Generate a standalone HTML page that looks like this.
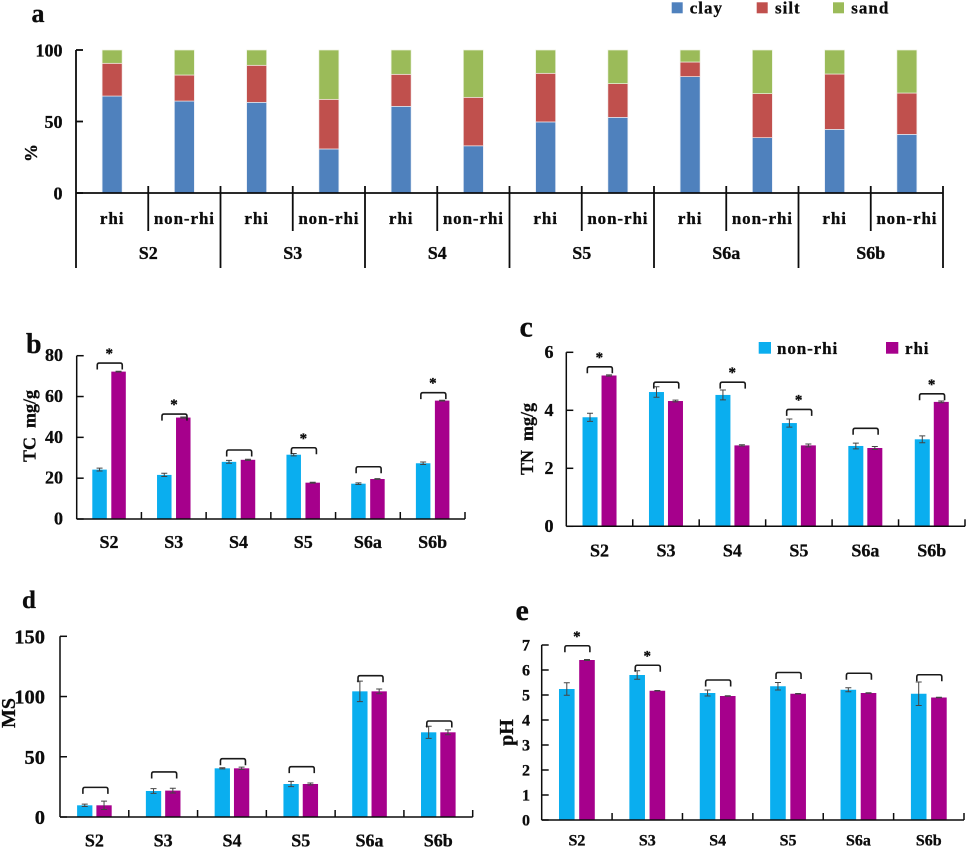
<!DOCTYPE html>
<html lang="en">
<head>
<meta charset="utf-8">
<title>Soil properties by site and rhizosphere</title>
<style>
  html, body { margin: 0; padding: 0; background: #fff; }
  #figure { display: block; width: 969px; height: 849px; filter: blur(0.35px); }
  text { font-family: "Liberation Serif", serif; font-weight: bold; fill: #0c0c0c; stroke: #0c0c0c; stroke-width: 0.3px; }
</style>
</head>
<body>
<svg id="figure" xmlns="http://www.w3.org/2000/svg" width="969" height="849" viewBox="0 0 969 849"></svg>
<script>
// ---------- Panel a data ----------
const textureSites = ['S2', 'S3', 'S4', 'S5', 'S6a', 'S6b'];
const textureTreatments = ['rhi', 'non-rhi'];
const textureClay = [67.8, 64.3, 63.4, 30.8, 60.6, 33, 49.7, 52.9, 81.4, 38.7, 44.5, 41];
const textureSilt = [22.9, 18.2, 25.9, 34.7, 22.4, 33.9, 34, 23.6, 10.2, 30.8, 38.7, 28.9];
const textureSand = [9.3, 17.5, 10.7, 34.5, 17, 33.1, 16.3, 23.5, 8.4, 30.5, 16.8, 30.1];
const textureTicks = [0, 50, 100];

// ---------- Shared categories ----------
const sites = ['S2', 'S3', 'S4', 'S5', 'S6a', 'S6b'];

// ---------- Panel b data (TC) ----------
const tcNonRhi = [24.2, 21.6, 28, 31.5, 17.3, 27.3];
const tcRhi = [72.2, 49.7, 29, 17.8, 19.6, 58];
const tcNonRhiErr = [0.7, 0.8, 0.7, 0.6, 0.4, 0.6];
const tcRhiErr = [0.2, 0.3, 0.3, 0.2, 0.2, 0.2];
const tcBracketLevel = [76.4, 51.4, 33.8, 34.9, 25.6, 61.9];
const tcSignificant = [1, 1, 0, 1, 0, 1];
const tcTicks = [0, 20, 40, 60, 80];

// ---------- Panel c data (TN) ----------
const tnNonRhi = [3.76, 4.63, 4.53, 3.56, 2.77, 3.0];
const tnRhi = [5.2, 4.32, 2.79, 2.79, 2.7, 4.29];
const tnNonRhiErr = [0.14, 0.18, 0.17, 0.14, 0.1, 0.12];
const tnRhiErr = [0.02, 0.03, 0.02, 0.05, 0.05, 0.03];
const tnBracketLevel = [5.5, 4.97, 4.97, 4.03, 3.38, 4.57];
const tnSignificant = [1, 0, 1, 1, 0, 1];
const tnTicks = [0, 2, 4, 6];

// ---------- Panel d data (MS) ----------
const msNonRhi = [9.7, 21.6, 40.4, 27.4, 104.3, 70.3];
const msRhi = [9.7, 21.9, 40.4, 27.4, 104.3, 70.3];
const msNonRhiErr = [1, 2, 0.5, 2.2, 8.5, 5];
const msRhiErr = [3.5, 2, 1, 0.8, 2, 2];
const msBracketLevel = [24.6, 37.4, 48.4, 41.8, 117.3, 79.7];
const msSignificant = [0, 0, 0, 0, 0, 0];
const msTicks = [0, 50, 100, 150];

// ---------- Panel e data (pH) ----------
const phNonRhi = [5.24, 5.8, 5.08, 5.35, 5.21, 5.05];
const phRhi = [6.4, 5.17, 4.96, 5.05, 5.08, 4.9];
const phNonRhiErr = [0.25, 0.17, 0.12, 0.15, 0.08, 0.47];
const phRhiErr = [0.02, 0.01, 0.01, 0.01, 0.01, 0.01];
const phBracketLevel = [6.97, 6.19, 5.6, 5.9, 5.87, 5.81];
const phSignificant = [1, 1, 0, 0, 0, 0];
const phTicks = [0, 1, 2, 3, 4, 5, 6, 7];

const SVG_NS = 'http://www.w3.org/2000/svg';
const root = document.getElementById('figure');
const CYAN = '#0aaeef', MAGENTA = '#a6008c';
const BLUE = '#4f81bd', RED = '#c0504d', GREEN = '#9bbb59';

function make(parent, tag, attrs, content) {
  const node = document.createElementNS(SVG_NS, tag);
  for (const k in attrs) node.setAttribute(k, attrs[k]);
  if (content !== undefined) node.textContent = content;
  parent.appendChild(node);
  return node;
}
function lineAttrs(x1, y1, x2, y2, width, color) {
  return { x1: x1, y1: y1, x2: x2, y2: y2, stroke: color || '#0c0c0c', 'stroke-width': width || 1.5 };
}

// ---------- Panel a ----------
function drawTexturePanel() {
  const g = make(root, 'g', {});
  
  

  const left = 76, right = 943, top = 50, zero = 193, maxV = 100;
  const subW = (right - left) / textureClay.length;
  const barW = 20;
  const y = v => zero - v / maxV * (zero - top);
  const x = i => left + subW * (i + 0.5);

  textureClay.forEach((clay, i) => {
    const silt = textureSilt[i], sand = textureSand[i];
    const clayBar = make(g, 'rect', { x: x(i) - barW / 2, y: y(clay), width: barW, height: y(0) - y(clay), fill: BLUE, stroke: '#e8eef6', 'stroke-width': 0.7 });
    
    
    const siltBar = make(g, 'rect', { x: x(i) - barW / 2, y: y(clay + silt), width: barW, height: y(clay) - y(clay + silt), fill: RED, stroke: '#f3e6e6', 'stroke-width': 0.7 });
    
    
    const sandBar = make(g, 'rect', { x: x(i) - barW / 2, y: y(clay + silt + sand), width: barW, height: y(clay + silt) - y(clay + silt + sand), fill: GREEN, stroke: '#eef3e2', 'stroke-width': 0.7 });
    
    
  });

  const yAxis = make(g, 'line', lineAttrs(left, top, left, zero, 1.8));
  
  
  const xAxis = make(g, 'line', lineAttrs(left, zero, right, zero, 1.8));
  
  

  textureTicks.forEach(t => {
    const tick = make(g, 'line', lineAttrs(left, y(t), left + 7, y(t), 1.8));
    
    
    const lab = make(g, 'text', { x: 62.5, y: y(t) + 6.5, 'text-anchor': 'end', 'font-size': 18 }, String(t));
    
    
  });

  for (let i = 0; i <= textureClay.length; i++) {
    const major = i % textureTreatments.length === 0;
    const bx = left + subW * i;
    const sep = make(g, 'line', lineAttrs(bx, major && i === 0 ? zero : 186, bx, major ? 268 : 231, 1.8));
    
    
  }
  textureClay.forEach((_, i) => {
    const lab = make(g, 'text', { x: x(i), y: 224, 'text-anchor': 'middle', 'font-size': 17, 'letter-spacing': 0.9 }, textureTreatments[i % textureTreatments.length]);
    
    
  });
  textureSites.forEach((s, i) => {
    const lab = make(g, 'text', { x: left + subW * textureTreatments.length * (i + 0.5), y: 259, 'text-anchor': 'middle', 'font-size': 18 }, s);
    
    
  });

  const title = make(g, 'text', { transform: 'translate(37 153) rotate(-90)', 'text-anchor': 'middle', 'font-size': 18 }, '%');
  
  

  const s1 = make(g, 'rect', { x: 671.7, y: 2.3, width: 11, height: 11, fill: BLUE });
  
  
  const t1 = make(g, 'text', { x: 689.7, y: 13.5, 'font-size': 17, 'letter-spacing': 1 }, 'clay');
  
  
  const s2 = make(g, 'rect', { x: 756.7, y: 2.3, width: 11, height: 11, fill: RED });
  
  
  const t2 = make(g, 'text', { x: 775, y: 13.5, 'font-size': 17, 'letter-spacing': 1 }, 'silt');
  
  
  const s3 = make(g, 'rect', { x: 833, y: 2.3, width: 11, height: 11, fill: GREEN });
  
  
  const t3 = make(g, 'text', { x: 851.3, y: 13.5, 'font-size': 17, 'letter-spacing': 1 }, 'sand');
  
  
}

// ---------- Panels b-e ----------
function drawGroupedPanel(c) {
  const g = make(root, 'g', {});
  
  

  const maxV = c.ticks[c.ticks.length - 1];
  const groupW = (c.right - c.left) / sites.length;
  const y = v => c.zero - v / maxV * (c.zero - c.top);
  const gc = i => c.left + groupW * (i + 0.5);

  sites.forEach((s, i) => {
    const nonX = gc(i) - c.gap / 2 - c.barW;
    const rhiX = gc(i) + c.gap / 2;
    const nonBar = make(g, 'rect', { x: nonX, y: y(c.non[i]), width: c.barW, height: y(0) - y(c.non[i]), fill: CYAN });
    
    
    const rhiBar = make(g, 'rect', { x: rhiX, y: y(c.rhi[i]), width: c.barW, height: y(0) - y(c.rhi[i]), fill: MAGENTA });
    
    

    const nonCx = nonX + c.barW / 2, rhiCx = rhiX + c.barW / 2;
    const e1 = make(g, 'path', {
      d: 'M' + nonCx + ' ' + y(c.non[i] + c.nonErr[i]) + 'V' + y(c.non[i] - c.nonErr[i]) +
         'M' + (nonCx - 3) + ' ' + y(c.non[i] + c.nonErr[i]) + 'h6' +
         'M' + (nonCx - 3) + ' ' + y(c.non[i] - c.nonErr[i]) + 'h6',
      stroke: '#444', 'stroke-width': 1, fill: 'none' });
    
    
    const e2 = make(g, 'path', {
      d: 'M' + rhiCx + ' ' + y(c.rhi[i] + c.rhiErr[i]) + 'V' + y(c.rhi[i] - c.rhiErr[i]) +
         'M' + (rhiCx - 3) + ' ' + y(c.rhi[i] + c.rhiErr[i]) + 'h6' +
         'M' + (rhiCx - 3) + ' ' + y(c.rhi[i] - c.rhiErr[i]) + 'h6',
      stroke: '#444', 'stroke-width': 1, fill: 'none' });
    
    

    const bTop = y(c.bracket[i]);
    const bL = gc(i) + c.bracketShift - 12.5, bR = gc(i) + c.bracketShift + 12.5;
    const br = make(g, 'path', {
      d: 'M' + bL + ' ' + (bTop + 6.5) + 'V' + (bTop + 2) + 'Q' + bL + ' ' + bTop + ' ' + (bL + 2) + ' ' + bTop +
         'H' + (bR - 2) + 'Q' + bR + ' ' + bTop + ' ' + bR + ' ' + (bTop + 2) + 'V' + (bTop + 6.5),
      stroke: '#1a1a1a', 'stroke-width': 1.6, fill: 'none' });
    
    

    if (c.sig[i]) {
      const star = make(g, 'text', { x: gc(i) + c.bracketShift - 0.5, y: bTop - 5, 'text-anchor': 'middle', 'font-size': 15 }, '*');
      
      
    }

    const lab = make(g, 'text', { x: gc(i), y: c.xLabelY, 'text-anchor': 'middle', 'font-size': c.xFont }, s);
    
    

    const xt = make(g, 'line', lineAttrs(c.left + groupW * (i + 1), c.zero - 7, c.left + groupW * (i + 1), c.zero, 1.5));
    
    
  });

  const yAxis = make(g, 'line', lineAttrs(c.left, c.top, c.left, c.zero, 1.5));
  
  
  const xAxis = make(g, 'line', lineAttrs(c.left, c.zero, c.right, c.zero, 1.5));
  
  

  c.ticks.forEach(t => {
    const tick = make(g, 'line', lineAttrs(c.left, y(t), c.left + 7, y(t), 1.5));
    
    
    const lab = make(g, 'text', { x: c.yLabelX, y: y(t) + c.yLabelDy, 'text-anchor': 'end', 'font-size': c.yFont }, String(t));
    
    
  });

  const title = make(g, 'text', { transform: 'translate(' + c.titleX + ' ' + c.titleY + ') rotate(-90)', 'text-anchor': 'middle', 'font-size': c.titleFont, 'xml:space': 'preserve', style: 'white-space:pre' }, c.title);
  
  
}

drawTexturePanel();

drawGroupedPanel({
  name: 'panel-b-total-carbon', non: tcNonRhi, rhi: tcRhi, nonErr: tcNonRhiErr, rhiErr: tcRhiErr,
  bracket: tcBracketLevel, sig: tcSignificant, ticks: tcTicks,
  left: 76.7, right: 465, top: 355.7, zero: 519, barW: 14.5, gap: 4.5, bracketShift: 0.7,
  xLabelY: 548, xFont: 18, yLabelX: 63, yLabelDy: 5.5, yFont: 18,
  title: 'TC  mg/g', titleX: 35.5, titleY: 426, titleFont: 18
});
drawGroupedPanel({
  name: 'panel-c-total-nitrogen', non: tnNonRhi, rhi: tnRhi, nonErr: tnNonRhiErr, rhiErr: tnRhiErr,
  bracket: tnBracketLevel, sig: tnSignificant, ticks: tnTicks,
  left: 566.3, right: 965, top: 352.3, zero: 526.3, barW: 15, gap: 4, bracketShift: 0.3,
  xLabelY: 556.7, xFont: 18, yLabelX: 553.5, yLabelDy: 5.7, yFont: 18,
  title: 'TN  mg/g', titleX: 533, titleY: 439, titleFont: 18
});
drawGroupedPanel({
  name: 'panel-d-magnetic-susceptibility', non: msNonRhi, rhi: msRhi, nonErr: msNonRhiErr, rhiErr: msRhiErr,
  bracket: msBracketLevel, sig: msSignificant, ticks: msTicks,
  left: 60, right: 472.7, top: 636.3, zero: 817, barW: 15.3, gap: 4, bracketShift: 1,
  xLabelY: 846.7, xFont: 18, yLabelX: 45, yLabelDy: 7, yFont: 20.5,
  title: 'MS', titleX: 15, titleY: 713, titleFont: 20
});
drawGroupedPanel({
  name: 'panel-e-soil-ph', non: phNonRhi, rhi: phRhi, nonErr: phNonRhiErr, rhiErr: phRhiErr,
  bracket: phBracketLevel, sig: phSignificant, ticks: phTicks,
  left: 541.7, right: 964, top: 645, zero: 820, barW: 15.6, gap: 4.6, bracketShift: 0.5,
  xLabelY: 845.7, xFont: 16, yLabelX: 530, yLabelDy: 5.5, yFont: 16,
  title: 'pH', titleX: 513, titleY: 732.5, titleFont: 20
});

// ---------- Shared non-rhi / rhi legend in panel c ----------
const legendSwatchNon = make(root, 'rect', { x: 758.7, y: 342, width: 12.3, height: 11.7, fill: CYAN });


const legendLabelNon = make(root, 'text', { x: 777, y: 354, 'font-size': 17, 'letter-spacing': 0.9 }, 'non-rhi');


const legendSwatchRhi = make(root, 'rect', { x: 886, y: 342, width: 12.3, height: 11.7, fill: MAGENTA });


const legendLabelRhi = make(root, 'text', { x: 905, y: 354, 'font-size': 17, 'letter-spacing': 0.9 }, 'rhi');



// ---------- Panel letters ----------
const letterA = make(root, 'text', { x: 31.5, y: 22, 'font-size': 26 }, 'a');


const letterB = make(root, 'text', { x: 26, y: 353, 'font-size': 28 }, 'b');


const letterC = make(root, 'text', { x: 519.5, y: 336.7, 'font-size': 30 }, 'c');


const letterD = make(root, 'text', { x: 22, y: 608, 'font-size': 25 }, 'd');


const letterE = make(root, 'text', { x: 515.5, y: 620, 'font-size': 30 }, 'e');


</script>
</body>
</html>
